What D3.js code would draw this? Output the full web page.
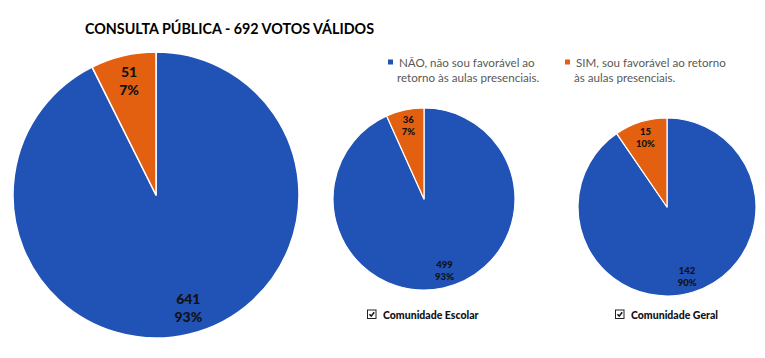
<!DOCTYPE html>
<html>
<head>
<meta charset="utf-8">
<script src="https://cdn.jsdelivr.net/npm/d3@7"></script>
<style>
  html, body { margin: 0; padding: 0; background: #ffffff; }
  svg { display: block; font-family: Lato, "Open Sans", "DejaVu Sans", sans-serif; }
</style>
</head>
<body>
<svg id="chart" width="765" height="358"></svg>
<script>
// ---- data ----
const chartTitle = "CONSULTA PÚBLICA - 692 VOTOS VÁLIDOS";
const categories = ["NÃO", "SIM"];
const legendLines = [
  ["NÃO, não sou favorável ao", "retorno às aulas presenciais."],
  ["SIM, sou favorável ao retorno", "às aulas presenciais."]
];
const totalValues = [641, 51];
const escolarValues = [499, 36];
const geralValues = [142, 15];
const pieNames = ["", "Comunidade Escolar", "Comunidade Geral"];

// ---- style / layout ----
const colors = ["#2152b6", "#e2600f"];
const svg = d3.select("#chart");

const pies = [
  { values: totalValues, cx: 156, cy: 195, r: 143, fs: 14, lineGap: 18, name: pieNames[0] },
  { values: escolarValues, cx: 424, cy: 199, r: 91, fs: 9.5, lineGap: 12, name: pieNames[1], nameX: 367 },
  { values: geralValues, cx: 667, cy: 207, r: 89, fs: 9.5, lineGap: 12, name: pieNames[2], nameX: 615 }
];
// label placement (angle in degrees clockwise from 12 o'clock, radius fraction)
const labelPlacement = [
  { angle: 164, rf: 0.82 },   // large slice
  { angle: null, rf: 0.82 }   // small slice: at its mid angle
];

// title
svg.append("text")
  .attr("x", 85).attr("y", 34)
  .attr("font-size", 16).attr("font-weight", 700).attr("fill", "#000")
  .attr("textLength", 289).attr("lengthAdjust", "spacingAndGlyphs")
  .text(chartTitle);

const pieGen = d3.pie().sort(null).startAngle(0).endAngle(2 * Math.PI);

pies.forEach(p => {
  const arcs = pieGen(p.values);
  const total = d3.sum(p.values);
  const arc = d3.arc().innerRadius(0).outerRadius(p.r);
  const g = svg.append("g").attr("transform", `translate(${p.cx},${p.cy})`);
  g.selectAll("path").data(arcs).join("path")
    .attr("d", arc)
    .attr("fill", (d, i) => colors[i])
    .attr("stroke", "#ffffff")
    .attr("stroke-width", p.r > 120 ? 1.5 : 1.2)
    .attr("stroke-linejoin", "round");

  arcs.forEach((d, i) => {
    const lp = labelPlacement[i];
    const ang = lp.angle !== null ? lp.angle * Math.PI / 180 : (d.startAngle + d.endAngle) / 2;
    const rr = lp.rf * p.r;
    const x = Math.sin(ang) * rr;
    const y = -Math.cos(ang) * rr;
    const pct = Math.round(d.value / total * 100) + "%";
    const t = g.append("text")
      .attr("text-anchor", "middle")
      .attr("font-size", p.fs).attr("font-weight", 900).attr("fill", "#111");
    t.append("tspan").attr("x", x).attr("y", y - p.lineGap / 2 + p.fs * 0.35).text(d.value);
    t.append("tspan").attr("x", x).attr("y", y + p.lineGap / 2 + p.fs * 0.35).text(pct);
  });

  if (p.name) {
    const bx = p.nameX, by = 309.5;
    svg.append("rect").attr("x", bx + 0.5).attr("y", by + 0.5).attr("width", 8.5).attr("height", 8.5)
      .attr("fill", "#fff").attr("stroke", "#222").attr("stroke-width", 1);
    svg.append("path")
      .attr("d", `M${bx + 2.4},${by + 4.8} L${bx + 4.2},${by + 6.6} L${bx + 7.2},${by + 2.7}`)
      .attr("fill", "none").attr("stroke", "#111").attr("stroke-width", 1.5);
    svg.append("text")
      .attr("x", bx + 16).attr("y", by + 9)
      .attr("font-size", 10.5).attr("font-weight", 900).attr("fill", "#111")
      .text(p.name);
  }
});

// legend
const legendX = [388, 565];
legendLines.forEach((lines, i) => {
  svg.append("rect").attr("x", legendX[i]).attr("y", 59.5).attr("width", 5).attr("height", 5)
    .attr("fill", colors[i]);
  const t = svg.append("text").attr("font-size", 11.6).attr("fill", "#595959");
  lines.forEach((ln, j) => {
    t.append("tspan").attr("x", legendX[i] + (j === 0 ? 11 : 9)).attr("y", 66.5 + j * 15.5).text(ln);
  });
});
</script>
</body>
</html>
